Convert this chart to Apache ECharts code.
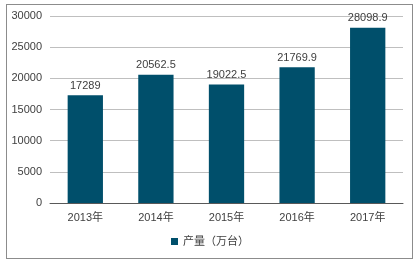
<!DOCTYPE html>
<html><head><meta charset="utf-8">
<script src="https://cdn.jsdelivr.net/npm/echarts@6/dist/echarts.min.js"></script>
<style>html,body{margin:0;padding:0;background:#fff}#c{width:420px;height:266px}
#frame{position:absolute;left:6px;top:4px;width:407px;height:255px;border:1px solid #8c8c8c;box-sizing:border-box;pointer-events:none}</style>
</head><body><div id="c"></div><div id="frame"></div>
<script>
const categories = ['2013年','2014年','2015年','2016年','2017年'];
const production = [17289, 20562.5, 19022.5, 21769.9, 28098.9];
const seriesName = '产量（万台）';
const yMax = 30000, yStep = 5000;

const chart = echarts.init(document.getElementById('c'), null, {renderer:'canvas'});
chart.setOption({
  animation:false,
  textStyle:{fontFamily:'Liberation Sans, Arial, "Noto Sans CJK SC", sans-serif'},
  grid:{left:50, right:17, top:16, bottom:63},
  legend:{bottom:14, left:'center', itemWidth:7, itemHeight:7, itemGap:4,
    icon:'rect', textStyle:{fontSize:11, color:'#404040', fontFamily:'Liberation Sans, Arial, "Noto Sans CJK SC", sans-serif'},
    data:[seriesName]},
  xAxis:{type:'category', data:categories,
    axisLine:{lineStyle:{color:'#595959', width:1}}, axisTick:{show:false},
    axisLabel:{color:'#404040', fontSize:11, margin:9}},
  yAxis:{type:'value', min:0, max:yMax, interval:yStep,
    axisLine:{show:false}, axisTick:{show:false},
    splitLine:{lineStyle:{color:'#bfbfbf', width:1}},
    axisLabel:{color:'#404040', fontSize:11, margin:8, formatter:v=>String(v)}},
  series:[{name:seriesName, type:'bar', data:production, barWidth:'50%',
    itemStyle:{color:'#004f6b'},
    label:{show:true, position:'top', color:'#404040', fontSize:11, distance:4, formatter:p=>String(p.value)}}]
});
</script></body></html>
